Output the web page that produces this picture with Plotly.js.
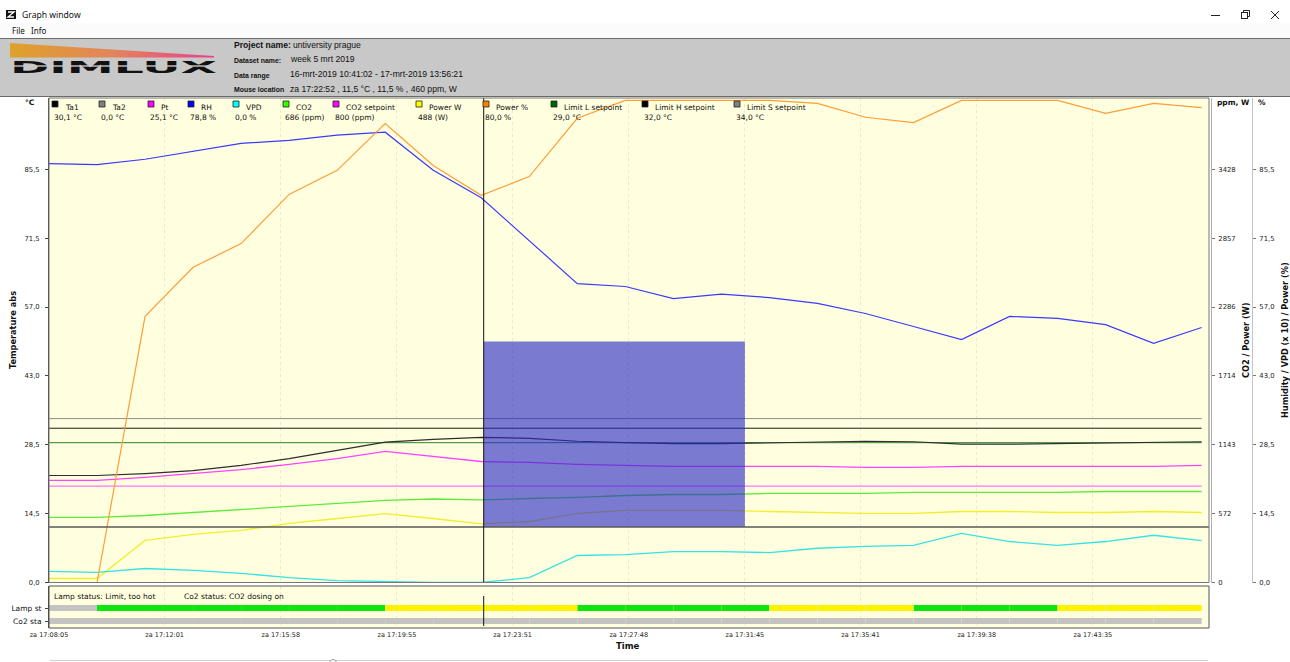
<!DOCTYPE html>
<html><head><meta charset="utf-8">
<script src="https://cdn.plot.ly/plotly-3.0.1.min.js"></script>
<style>
html,body{margin:0;padding:0;background:#fff;width:1290px;height:662px;overflow:hidden}
#chrome{position:absolute;left:0;top:0}
#chart{position:absolute;left:0;top:0;width:1290px;height:662px}
</style></head><body>
<svg id="chrome" width="1290" height="662" xmlns="http://www.w3.org/2000/svg" font-family="'DejaVu Sans', sans-serif">
  <rect x="0" y="0" width="1290" height="662" fill="#ffffff"/>
  <!-- title bar -->
  <rect x="6" y="10" width="10" height="9" fill="#111"/>
  <path d="M8 12 L14 12 L8 17 L14 17" stroke="#fff" stroke-width="1.3" fill="none"/>
  <text x="22" y="18" font-size="8.6" font-family="'Noto Sans', sans-serif" fill="#111">Graph window</text>
  <line x1="1211" y1="15.5" x2="1220" y2="15.5" stroke="#222" stroke-width="1"/>
  <rect x="1241.5" y="12.5" width="6" height="6" fill="none" stroke="#222" stroke-width="1"/>
  <path d="M1243.5 12.5 V10.5 H1249.5 V16.5 H1247.5" fill="none" stroke="#222" stroke-width="1"/>
  <path d="M1271 11 L1279 19 M1279 11 L1271 19" stroke="#222" stroke-width="1"/>
  <!-- menu bar -->
  <rect x="0" y="23" width="1290" height="15" fill="#fbfbfb"/>
  <text x="12" y="33.5" font-size="8" font-family="'Noto Sans', sans-serif" fill="#111">File</text>
  <text x="31" y="33.5" font-size="8" font-family="'Noto Sans', sans-serif" fill="#111">Info</text>
  <!-- header -->
  <rect x="0" y="38" width="1290" height="58" fill="#c8c8c8"/>
  <line x1="0" y1="38.5" x2="1290" y2="38.5" stroke="#6a6a6a"/>
  <line x1="0" y1="96.5" x2="1290" y2="96.5" stroke="#6a6a6a"/>
  <defs>
    <linearGradient id="lg" x1="0" x2="1" y1="0" y2="0">
      <stop offset="0" stop-color="#dea22a"/>
      <stop offset="0.5" stop-color="#e2855a"/>
      <stop offset="1" stop-color="#ea3f8c"/>
    </linearGradient>
  </defs>
  <polygon points="10,43 214,56 214,57.5 10,57.5" fill="url(#lg)"/>
  <text x="10" y="72.5" font-size="16.5" font-weight="bold" font-family="'DejaVu Sans', sans-serif" textLength="207" lengthAdjust="spacingAndGlyphs" fill="#111">DIMLUX</text>
  <rect x="10" y="65.3" width="208" height="1.4" fill="#c8c8c8"/>
  <g font-family="'Liberation Sans', Arial, sans-serif" fill="#111">
    <text x="234" y="47.5" font-size="8.6" font-weight="bold">Project name:</text>
    <text x="293" y="47.5" font-size="8.6">untiversity prague</text>
    <text x="234" y="62.5" font-size="6.9" font-weight="bold">Dataset name:</text>
    <text x="291" y="62" font-size="8.6">week 5 mrt 2019</text>
    <text x="234" y="77.5" font-size="6.9" font-weight="bold">Data range</text>
    <text x="290" y="77" font-size="8.6">16-mrt-2019 10:41:02 - 17-mrt-2019 13:56:21</text>
    <text x="234" y="92" font-size="6.9" font-weight="bold">Mouse location</text>
    <text x="290" y="92" font-size="8.6">za 17:22:52 , 11,5 °C , 11,5 % , 460 ppm, W</text>
  </g>
  <!-- bottom slider line -->
  <line x1="50" y1="660.5" x2="1208" y2="660.5" stroke="#cfcfcf" stroke-width="1"/>
  <circle cx="333" cy="663" r="3.5" fill="#fff" stroke="#9a9a9a"/>
</svg>
<div id="chart"></div>
<script>
// ---------------- data ----------------
const day = '2019-03-16 ';
const times = ['17:08:05','17:09:43','17:11:21','17:12:59','17:14:37','17:16:15','17:17:53','17:19:31',
  '17:21:09','17:22:47','17:24:25','17:26:03','17:27:41','17:29:19','17:30:57','17:32:35','17:34:13',
  '17:35:51','17:37:29','17:39:07','17:40:45','17:42:23','17:44:01','17:45:39','17:47:17'];

// temperature axis (°C)
const ta1 = [22.2,22.2,22.6,23.2,24.3,25.7,27.4,29.1,29.7,30.1,29.9,29.3,29.0,28.8,28.8,29.0,29.1,29.3,29.2,28.7,28.7,28.8,29.0,29.1,29.2];
const ta2 = [0,0,0,0,0,0,0,0,0,0,0,0,0,0,0,0,0,0,0,0,0,0,0,0,0];
const pt  = [21.2,21.2,21.8,22.6,23.4,24.5,25.7,27.2,26.1,25.1,24.9,24.5,24.3,24.1,24.1,24.1,24.1,23.9,23.9,24.1,24.1,24.1,24.1,24.1,24.3];
const limitL = [29,29,29,29,29,29,29,29,29,29,29,29,29,29,29,29,29,29,29,29,29,29,29,29,29];
const limitH = [32,32,32,32,32,32,32,32,32,32,32,32,32,32,32,32,32,32,32,32,32,32,32,32,32];
const limitS = [34,34,34,34,34,34,34,34,34,34,34,34,34,34,34,34,34,34,34,34,34,34,34,34,34];
// ppm / W axis
const co2 = [540,540,556,581,606,631,656,681,693,685,697,706,722,730,730,739,739,739,747,747,747,747,755,755,755];
const co2Setpoint = [800,800,800,800,800,800,800,800,800,800,800,800,800,800,800,800,800,800,800,800,800,800,800,800,800];
const powerW = [33,33,349,400,432,490,531,572,531,487,506,573,598,598,598,589,581,573,573,589,589,581,581,589,581];
// % axis
const rh = [86.9,86.7,87.8,89.4,91.1,91.7,92.8,93.4,85.5,79.8,71.0,62.0,61.4,58.9,59.8,59.1,57.9,55.8,53.1,50.4,55.2,54.8,53.5,49.6,52.9];
const vpd = [2.3,2.1,2.9,2.5,1.9,1.0,0.4,0.2,0,0,1.0,5.6,5.8,6.4,6.4,6.2,7.1,7.5,7.7,10.2,8.5,7.7,8.5,9.8,8.7];
const powerPct = [0,0,55.2,65.4,70.3,80.5,85.5,95.2,86.5,80.3,84.2,96.3,100,100,100,100,99.4,96.5,95.4,100,100,100,97.3,99.4,98.5];
// status (0 = off/grey, 1 = green, 2 = yellow), state valid from that sample to the next
const lampStatus = [0,1,1,1,1,1,1,2,2,2,2,1,1,1,1,2,2,2,1,1,1,2,2,2,2];
const co2Status  = [0,0,0,0,0,0,0,0,0,0,0,0,0,0,0,0,0,0,0,0,0,0,0,0,0];

// legend
const seriesNames = ['Ta1','Ta2','Pt','RH','VPD','CO2','CO2 setpoint','Power W','Power %','Limit L setpoint','Limit H setpoint','Limit S setpoint'];
const cursorReadout = ['30,1 °C','0,0 °C','25,1 °C','78,8 %','0,0 %','686 (ppm)','800 (ppm)','488 (W)','80,0 %','29,0 °C','32,0 °C','34,0 °C'];

// axes
const tickTimes = ['17:08:05','17:12:01','17:15:58','17:19:55','17:23:51','17:27:48','17:31:45','17:35:41','17:39:38','17:43:35'];
const tickLabels = ['za 17:08:05','za 17:12:01','za 17:15:58','za 17:19:55','za 17:23:51','za 17:27:48','za 17:31:45','za 17:35:41','za 17:39:38','za 17:43:35'];
const tempTicks = [0,14.286,28.571,42.857,57.143,71.429,85.714];
const tempTickLabels = ['0,0','14,5','28,5','43,0','57,0','71,5','85,5'];
const ppmTicks = [0,571.4,1142.9,1714.3,2285.7,2857.1,3428.6];
const ppmTickLabels = ['0','572','1143','1714','2286','2857','3428'];
const pctTicks = [0,14.286,28.571,42.857,57.143,71.429,85.714];
const pctTickLabels = ['0,0','14,5','28,5','43,0','57,0','71,5','85,5'];
const statusRows = ['Lamp st','Co2 sta'];

// cursor / selection
const cursorTime = '17:22:52';
const cursorTemp = 11.5;
const selectionEnd = '17:31:45';
const selectionTop = 50;

// ---------------- layout helpers ----------------
const W = 1290, H = 662, ML = 49, MR = 20, MT = 98, MB = 34;
const PW = W - ML - MR, PH = H - MT - MB;
const px = x => (x - ML) / PW;
const py = y => (H - MB - y) / PH;
const xd = px(1209);
const mainBottom = py(582.5);
const statusTop = py(586);
const FONT = "'DejaVu Sans', sans-serif";
const X = times.map(t => day + t);

function line(name, y, axis, color, width) {
  return {type: 'scatter', mode: 'lines', name: name, x: X, y: y, xaxis: 'x', yaxis: axis,
          line: {color: color, width: width || 1}, hoverinfo: 'skip', showlegend: false};
}

const colors = {
  ta1: '#2e2e2e', ta2: '#808080', pt: '#ff44ff', rh: '#3a3aff', vpd: '#35e3e3', co2: '#5eea3a',
  co2sp: '#ff70ff', powerW: '#f2ee2a', powerPct: '#ff9d38', limL: '#2f7f2f', limH: '#1a1a1a', limS: '#8c8c8c'
};
const legendColors = ['#000000','#808080','#ff00ff','#0000ff','#00ffff','#33ff00','#ff00ff','#ffff00','#ff7f00','#006400','#000000','#808080'];

const traces = [
  line('Ta2', ta2, 'y', colors.ta2),
  line('Limit S setpoint', limitS, 'y', colors.limS),
  line('Limit H setpoint', limitH, 'y', colors.limH),
  line('Limit L setpoint', limitL, 'y', colors.limL),
  line('CO2 setpoint', co2Setpoint, 'y2', colors.co2sp, 1.3),
  line('CO2', co2, 'y2', colors.co2, 1.3),
  line('Power W', powerW, 'y2', colors.powerW, 1.3),
  line('VPD', vpd, 'y3', colors.vpd, 1.3),
  line('Pt', pt, 'y', colors.pt, 1.3),
  line('Ta1', ta1, 'y', colors.ta1, 1.2),
  line('RH', rh, 'y3', colors.rh, 1.2),
  line('Power %', powerPct, 'y3', colors.powerPct, 1.2)
];

// status bars
const statusColors = ['#c3c3c3', '#0ce60c', '#fff200'];
function statusTraces(states, row) {
  const out = [];
  [0, 1, 2].forEach(s => {
    const xs = [], ys = [];
    for (let i = 0; i < states.length - 1; i++) {
      if (states[i] === s) { xs.push(X[i], X[i + 1], null); ys.push(row, row, null); }
    }
    if (xs.length) out.push({type: 'scatter', mode: 'lines', x: xs, y: ys, xaxis: 'x', yaxis: 'y4',
      line: {color: statusColors[s], width: 6}, hoverinfo: 'skip', showlegend: false});
  });
  return out;
}
traces.push(...statusTraces(lampStatus, 1), ...statusTraces(co2Status, 0));

// ---------------- shapes & annotations ----------------
const shapes = [
  {type: 'rect', xref: 'x', yref: 'y', x0: day + cursorTime, x1: day + selectionEnd, y0: cursorTemp, y1: selectionTop,
   fillcolor: 'rgba(40,40,200,0.62)', line: {width: 0}, layer: 'above'},
  {type: 'line', xref: 'paper', yref: 'y', x0: 0, x1: xd, y0: cursorTemp, y1: cursorTemp, line: {color: '#5a5a5a', width: 1.4}},
  {type: 'line', xref: 'x', yref: 'paper', x0: day + cursorTime, x1: day + cursorTime, y0: mainBottom, y1: 1, line: {color: '#111', width: 1}},
  {type: 'line', xref: 'x', yref: 'paper', x0: day + cursorTime, x1: day + cursorTime, y0: py(626), y1: py(596), line: {color: '#111', width: 1}},
  {type: 'rect', xref: 'paper', yref: 'paper', x0: 0, x1: xd, y0: mainBottom, y1: 1, line: {color: '#777', width: 1}, fillcolor: 'rgba(0,0,0,0)'},
  {type: 'rect', xref: 'paper', yref: 'paper', x0: 0, x1: xd, y0: 0, y1: statusTop, line: {color: '#555', width: 1}, fillcolor: 'rgba(0,0,0,0)'}
];
const annotations = [];
const legendX = [52, 99, 148, 188, 233, 283, 333, 416, 483, 551, 642, 734];
seriesNames.forEach((n, i) => {
  const x = legendX[i];
  shapes.push({type: 'rect', xref: 'paper', yref: 'paper', x0: px(x), x1: px(x + 6), y0: py(107), y1: py(101),
               fillcolor: legendColors[i], line: {color: '#222', width: 0.8}});
  annotations.push({xref: 'paper', yref: 'paper', x: px(x + 11), y: py(107.5), xanchor: 'left', yanchor: 'middle',
                    text: n, showarrow: false, font: {family: FONT, size: 7.5, color: '#111'}});
  annotations.push({xref: 'paper', yref: 'paper', x: px(x), y: py(117.5), xanchor: 'left', yanchor: 'middle',
                    text: cursorReadout[i], showarrow: false, font: {family: FONT, size: 7.5, color: '#111'}});
});
function ann(text, x, y, opts) {
  annotations.push(Object.assign({xref: 'paper', yref: 'paper', x: px(x), y: py(y), text: text, showarrow: false,
    xanchor: 'center', yanchor: 'middle', font: {family: FONT, size: 7.5, color: '#111'}}, opts || {}));
}
ann('<b>°C</b>', 37, 102, {xanchor: 'right', font: {family: FONT, size: 7.5, color: '#111'}});
ann('<b>ppm, W</b>', 1215, 102, {xanchor: 'left', font: {family: FONT, size: 7.5, color: '#111'}});
ann('<b>%</b>', 1256, 102, {xanchor: 'left', font: {family: FONT, size: 7.5, color: '#111'}});
ann('<b>Temperature abs</b>', 13, 330, {textangle: -90, font: {family: FONT, size: 8.2, color: '#111'}});
ann('<b>CO2 / Power (W)</b>', 1246, 340, {textangle: -90, font: {family: FONT, size: 8.2, color: '#111'}});
ann('<b>Humidity / VPD (x 10) / Power (%)</b>', 1285, 340, {textangle: -90, font: {family: FONT, size: 8.2, color: '#111'}});
ann('<b>Time</b>', 628, 646, {font: {family: FONT, size: 8.5, color: '#111'}});
ann('Lamp status: Limit, too hot', 52, 596.5, {xanchor: 'left', font: {family: FONT, size: 7.5, color: '#111'}});
ann('Co2 status: CO2 dosing on', 182, 596.5, {xanchor: 'left', font: {family: FONT, size: 7.5, color: '#111'}});

// ---------------- layout ----------------
const tickFont = {family: FONT, size: 6.8, color: '#222'};
const layout = {
  width: W, height: H,
  margin: {l: ML, r: MR, t: MT, b: MB, pad: 0},
  paper_bgcolor: 'rgba(0,0,0,0)',
  plot_bgcolor: '#ffffdf',
  showlegend: false,
  xaxis: {type: 'date', domain: [0, xd], range: [day + '17:08:05', day + '17:47:32'], anchor: 'y4',
    tickvals: tickTimes.map(t => day + t), ticktext: tickLabels, tickfont: {family: FONT, size: 6.5, color: '#222'},
    ticks: '', showgrid: true, gridcolor: '#e9e9d2', griddash: 'dot', gridwidth: 1, zeroline: false, showline: false,
    ticklabelstandoff: 1},
  yaxis: {domain: [mainBottom, 1], range: [0, 100.5], anchor: 'x', tickvals: tempTicks, ticktext: tempTickLabels,
    ticks: 'outside', ticklen: 3, tickcolor: '#444', tickfont: tickFont, showgrid: false, zeroline: false,
    showline: true, linecolor: '#444', ticklabelstandoff: 4},
  yaxis2: {overlaying: 'y', side: 'right', anchor: 'free', position: xd + 2 / PW, range: [0, 4020],
    tickvals: ppmTicks, ticktext: ppmTickLabels, ticks: 'outside', ticklen: 3, tickcolor: '#777', tickfont: tickFont,
    showgrid: false, zeroline: false, showline: true, linecolor: '#b0b0b0', ticklabelstandoff: 2},
  yaxis3: {overlaying: 'y', side: 'right', anchor: 'free', position: px(1252), range: [0, 100.5],
    tickvals: pctTicks, ticktext: pctTickLabels, ticks: 'outside', ticklen: 3, tickcolor: '#777', tickfont: tickFont,
    showgrid: false, zeroline: false, showline: true, linecolor: '#c4c4c4', ticklabelstandoff: 2},
  yaxis4: {domain: [0, statusTop], range: [-0.538, 2.692], anchor: 'x', tickvals: [1, 0], ticktext: statusRows,
    ticks: 'outside', ticklen: 3, tickcolor: '#444', tickfont: {family: FONT, size: 7.5, color: '#111'},
    showgrid: false, zeroline: false, showline: true, linecolor: '#444', ticklabelstandoff: 2, fixedrange: true},
  shapes: shapes,
  annotations: annotations
};

Plotly.newPlot('chart', traces, layout, {displayModeBar: false, staticPlot: true});
</script>
</body></html>
